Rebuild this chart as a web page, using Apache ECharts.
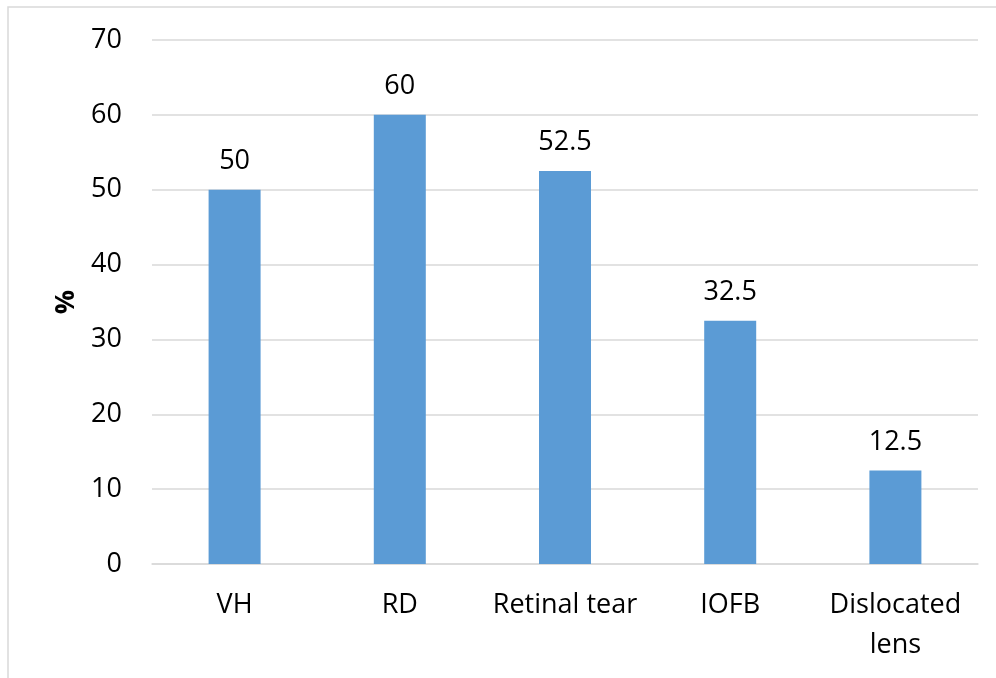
<!DOCTYPE html>
<html>
<head>
<meta charset="utf-8">
<script src="https://cdn.jsdelivr.net/npm/echarts@6/dist/echarts.min.js"></script>
<style>
  html, body { margin: 0; padding: 0; background: #fff; }
  #chart { width: 996px; height: 678px; }
</style>
</head>
<body>
<div id="chart"></div>
<script>
// Injury categories and their share (%)
const categories = ['VH', 'RD', 'Retinal tear', 'IOFB', 'Dislocated\nlens'];
const values = [50, 60, 52.5, 32.5, 12.5];
const yTicks = { min: 0, max: 70, interval: 10 };
const yName = '%';

const font = "'Open Sans', 'Noto Sans', sans-serif";
const chart = echarts.init(document.getElementById('chart'), null, { renderer: 'canvas' });

chart.setOption({
  animation: false,
  backgroundColor: '#fff',
  graphic: [{
    type: 'rect',
    shape: { x: 8, y: 7, width: 1100, height: 800 },
    style: { fill: 'none', stroke: '#D9D9D9', lineWidth: 1.5 },
    silent: true
  }],
  grid: { left: 152, right: 18, top: 40, bottom: 114, containLabel: false },
  xAxis: {
    type: 'category',
    data: categories,
    axisLine: { show: true, lineStyle: { color: '#D9D9D9', width: 1.5 } },
    axisTick: { show: false },
    axisLabel: {
      color: '#000', fontFamily: font, fontSize: 27, margin: 21, lineHeight: 40,
      interval: 0
    }
  },
  yAxis: {
    type: 'value',
    min: yTicks.min, max: yTicks.max, interval: yTicks.interval,
    name: yName,
    nameLocation: 'middle',
    nameGap: 72,
    nameRotate: 90,
    nameTextStyle: { color: '#000', fontFamily: font, fontSize: 27, fontWeight: 'bold' },
    axisLine: { show: false },
    axisTick: { show: false },
    axisLabel: { color: '#000', fontFamily: font, fontSize: 27, margin: 30 },
    splitLine: { lineStyle: { color: '#D9D9D9', width: 1.5 } }
  },
  series: [{
    type: 'bar',
    data: values,
    barWidth: 52,
    itemStyle: { color: '#5B9BD5' },
    label: {
      show: true, position: 'top', distance: 15,
      color: '#000', fontFamily: font, fontSize: 27
    }
  }]
});
</script>
</body>
</html>
